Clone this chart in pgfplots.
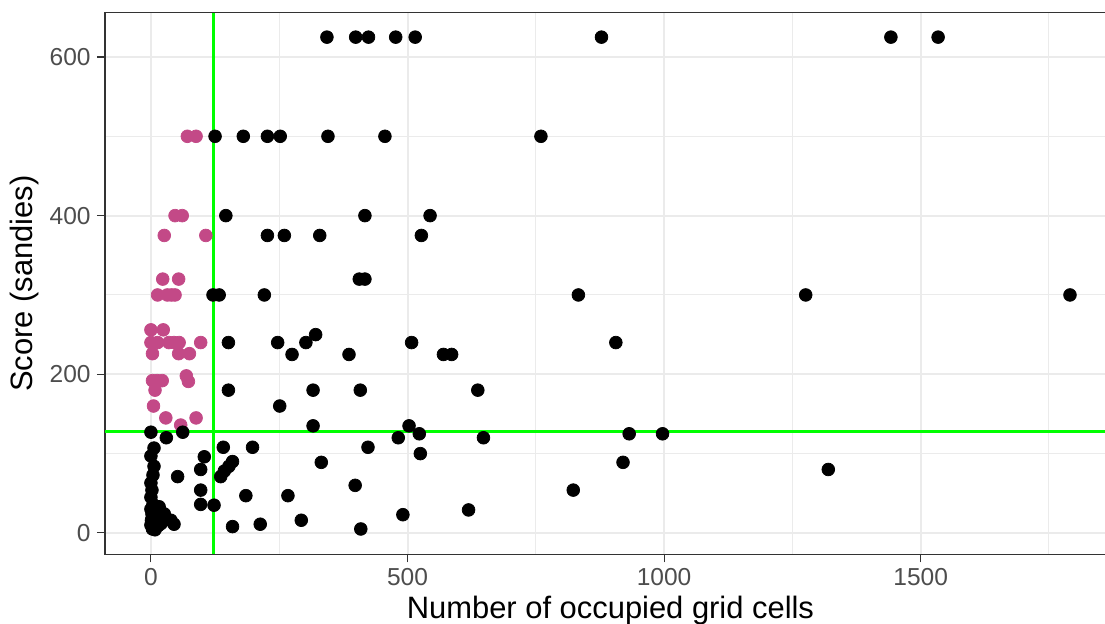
\documentclass[border=0pt]{standalone}
\usepackage{fontspec}
\setmainfont{Liberation Sans}
\usepackage{pgfplots}
\pgfplotsset{compat=1.18}

\definecolor{ptpink}{RGB}{195,73,135}
\definecolor{gridgrey}{RGB}{235,235,235}
\definecolor{ticktext}{RGB}{77,77,77}
\definecolor{framegrey}{RGB}{51,51,51}

\begin{document}
\begin{tikzpicture}
\begin{axis}[
  scale only axis, width=556pt, height=298pt,
  xmin=-89.5, xmax=1880.5, ymin=-27, ymax=656,
  xtick={0,500,1000,1500}, ytick={0,200,400,600},
  minor xtick={250,750,1250,1750}, minor ytick={100,300,500},
  grid=both,
  major grid style={gridgrey, line width=1.1pt},
  minor grid style={gridgrey, line width=0.55pt},
  axis line style={framegrey, line width=0.6pt},
  tick align=outside, tick pos=left,
  major tick length=4.4pt, minor tick length=0pt,
  tick style={framegrey, line width=0.6pt},
  /pgf/number format/assume math mode=true,
  /pgf/number format/set thousands separator={},
  ticklabel style={font=\fontsize{13.5}{15}\selectfont, text=ticktext},
  xlabel={Number of occupied grid cells},
  ylabel={Score (sandies)},
  label style={font=\fontsize{17}{19}\selectfont},
  xlabel style={yshift=1.5pt},
  ylabel style={yshift=-1pt},
]
% points above the cut-off on both axes
\addplot[only marks, mark=*, mark size=3.5pt, ptpink, mark options={draw=ptpink, fill=ptpink}] coordinates {
  (71,500) (88,500)
  (47,400) (61,400)
  (26,375) (107,375)
  (23,320) (54,320)
  (13,300) (32,300) (40,300) (47,300)
  (0,256) (24,256)
  (0,240) (13,240) (35,240) (45,240) (55,240) (97,240)
  (3,226) (54,226) (75,226)
  (3,192) (12,192) (22,192) (69,198) (73,191)
  (8,180) (5,160)
  (29,145) (88,145) (58,136)
};
% all other points
\addplot[only marks, mark=*, mark size=3.5pt, black] coordinates {
  (343,625) (399,625) (424,625) (477,625) (515,625) (878,625) (1442,625) (1534,625)
  (125,500) (180,500) (227,500) (252,500) (345,500) (456,500) (760,500)
  (146,400) (417,400) (544,400)
  (227,375) (260,375) (329,375) (527,375)
  (406,320) (417,320)
  (121,300) (133,300) (221,300) (833,300) (1276,300) (1791,300)
  (321,250)
  (151,240) (247,240) (302,240) (508,240) (906,240)
  (275,225) (386,225) (570,225) (586,225)
  (151,180) (316,180) (408,180) (637,180)
  (251,160)
  (316,135) (503,135)
  (523,125) (932,125) (997,125)
  (482,120) (648,120)
  (141,108) (198,108) (423,108)
  (525,100)
  (332,89) (920,89)
  (159,90) (152,84) (143,78) (136,71)
  (1320,80)
  (104,96) (97,80) (52,71) (97,54) (97,36) (123,35)
  (185,47) (267,47)
  (398,60) (823,54) (619,29)
  (213,11) (159,8) (293,16) (491,23) (409,5)
  (30,120) (62,127)
  (0,127) (6,107) (0,97) (6,84) (4,73) (0,63) (2,54) (0,45) (4,36) (0,30)
  (2,24) (10,20) (1,16) (0,10) (3,5) (8,4) (16,33) (20,26) (26,24) (12,16)
  (30,18) (39,16) (45,11) (14,9) (6,12) (20,12)
};
% median lines
\addplot[green, line width=1.5pt] coordinates {(122,-27) (122,656)};
\addplot[green, line width=1.5pt] coordinates {(-89.5,127.5) (1880.5,127.5)};
\coordinate (sw) at (rel axis cs:0,0);
\coordinate (nw) at (rel axis cs:0,1);
\end{axis}
\pgfresetboundingbox
\path[use as bounding box] ([shift={(-57.75pt,-38.1pt)}]sw) rectangle ([shift={(550pt,6.9pt)}]nw);
\end{tikzpicture}
\end{document}
